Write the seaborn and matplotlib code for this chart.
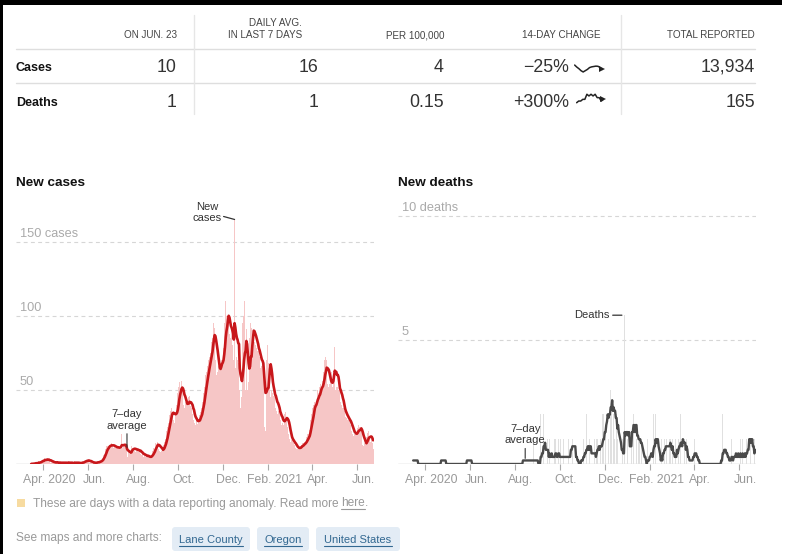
import numpy as np
import pandas as pd
import matplotlib
matplotlib.use("Agg")
import matplotlib.pyplot as plt
import matplotlib.transforms as mtransforms
import matplotlib.dates as mdates
from matplotlib.patches import Rectangle, FancyBboxPatch
from matplotlib.lines import Line2D
import seaborn as sns

# ---------------- data (daily values, Mar 16 2020 - Jun 23 2021) ----------------
cases_2020_03 = [0,1,0,0,1,0,1,1,0,1,2,1,1,2,2,3]
cases_2020_04 = [3,2,4,3,2,3,4,2,3,2,1,2,1,1,2,1,0,1,1,2,1,0,1,1,0,1,2,1,0,1]
cases_2020_05 = [1,0,1,1,2,1,0,1,0,1,1,0,1,2,1,0,1,1,0,1,1,0,1,1,2,1,2,3,2,2,3]
cases_2020_06 = [2,3,1,1,2,1,0,1,1,1,0,2,1,1,2,1,2,2,3,3,4,6,7,9,10,12,13,12,11,13]
cases_2020_07 = [13,12,14,13,12,11,12,11,10,12,11,12,10,11,13,12,20,11,12,10,13,12,11,3,5,9,7,10,9,12,11]
cases_2020_08 = [10,11,9,10,8,11,9,10,8,9,7,8,6,7,5,6,7,5,6,4,5,6,4,5,4,6,7,9,11,10,12]
cases_2020_09 = [14,13,15,16,10,9,8,10,9,11,10,13,15,17,20,22,25,28,30,33,36,38,40,35,30,28,30,34,40,46]
cases_2020_10 = [48,52,55,50,48,56,52,44,40,38,42,36,44,40,45,41,46,39,36,38,34,30,32,28,26,30,31,27,29,33,30]
cases_2020_11 = [35,38,42,44,48,52,56,60,62,66,66,70,72,75,80,82,85,95,100,92,70,60,58,62,66,68,70,65,70,72]
cases_2020_12 = [68,78,95,105,110,100,92,98,100,88,85,90,91,80,84,70,165,65,61,72,70,68,66,50,38,45,55,95,100,110,80]
cases_2021_01 = [50,91,40,50,55,85,90,95,92,88,90,90,82,80,85,78,76,76,70,72,65,68,66,70,65,20,25,22,70,75,80]
cases_2021_02 = [68,65,68,45,50,48,44,46,48,48,38,36,34,38,36,36,30,28,26,28,26,30,34,35,32,32,25,20]
cases_2021_03 = [19,17,15,16,16,16,14,13,12,11,10,10,11,11,11,12,12,13,14,13,14,15,15,16,18,20,20,21,23,30,34]
cases_2021_04 = [36,38,40,42,44,40,40,48,50,48,52,50,54,52,56,56,62,70,72,69,70,54,52,56,54,58,50,62,52,60]
cases_2021_05 = [80,79,50,52,48,52,50,55,50,42,40,38,36,38,36,32,30,31,30,29,30,31,26,24,22,20,19,21,20,22,20]
cases_2021_06 = [21,24,26,25,22,25,25,14,13,12,14,13,14,18,21,20,22,18,15,16,17,14,10]

deaths_2020_03 = [1,0,0,0,0,0,0,0,0,0,0,0,0,0,0,0]
deaths_2020_04 = [0,0,0,0,0,0,0,0,0,0, 0,0,0,0,0,0,0,0,0,0, 0,0,1,0,0,0,0,0,0,0]
deaths_2020_05 = [0,0,0,0,0,0,0,0,0,0, 0,0,0,0,0,0,0,0,0,0, 0,0,0,0,0,0,0,1,0,0,0]
deaths_2020_06 = [0,0,0,0,0,0,0,0,0,0, 0,0,0,0,0,0,0,0,0,0, 0,0,0,0,0,0,0,0,0,0]
deaths_2020_07 = [0,0,0,0,0,0,0,0,0,0, 0,0,0,0,0,0,0,0,0,0, 0,0,0,0,0,0,0,0,0,0,0]
deaths_2020_08 = [0,0,0,0,0,0,0,0,0,0, 0,1,0,0,0,0,0,0,1,0, 0,0,0,0,0,1,0,0,0,0, 0]
deaths_2020_09 = [0,0,0,0,2,0,1,0,2,0, 1,0,0,1,0,0,1,0,0,1, 0,0,0,1,1,0,0,0,1,0]
deaths_2020_10 = [0,1,0,0,0,1,0,0,1,0, 0,0,1,0,0,3,0,1,0,1, 0,0,0,0,0,0,0,0,0,1, 0]
deaths_2020_11 = [0,1,0,1,0,2,0,1,0,1, 0,1,0,0,1,0,1,0,0,1, 1,1,1,0,1,0,1,2,2,1]
deaths_2020_12 = [2,1,2,2,4,1,2,2,3,2, 4,1,2,1,2,1,2,1,2,0, 0,1,0,0,1,1,0,6,0,1, 0]
deaths_2021_01 = [1,0,1,2,0,1,4,1,2,1, 0,2,1,1,1,1,1,0,1,1, 0,0,0,0,0,0,0,1,0,0, 1]
deaths_2021_02 = [0,1,0,0,2,1,1,2,0,1, 0,0,0,0,0,1,0,2,0,1, 0,1,1,0,2,0,1,1]
deaths_2021_03 = [0,0,1,0,0,0,1,0,2,0, 1,1,0,2,0,1,2,0,1,0, 0,1,0,0,0,0,0,0,1,0, 1]
deaths_2021_04 = [0,1,0,0,0,0,0,0,0,0, 0,0,0,0,0,0,0,0,0,0, 0,0,0,0,0,0,0,0,0,0]
deaths_2021_05 = [0,0,0,0,0,0,0,1,0,2, 0,1,0,0,0,0,1,0,0,0, 0,1,0,0,1,0,0,1,0,0, 1]
deaths_2021_06 = [0,0,1,0,0,1,0,0,1,0, 1,0,2,0,3,0,1,0,1,0, 0,1,1]

table_rows = ["Cases", "Deaths"]
table_headers = ["ON JUN. 23", "DAILY AVG.\nIN LAST 7 DAYS", "PER 100,000", "14-DAY CHANGE", "TOTAL REPORTED"]
table_cases = ["10", "16", "4", "\u221225%", "13,934"]
table_deaths = ["1", "1", "0.15", "+300%", "165"]

tick_dates = ["2020-04-01", "2020-06-01", "2020-08-01", "2020-10-01", "2020-12-01",
              "2021-02-01", "2021-04-01", "2021-06-01"]
tick_labels = ["Apr. 2020", "Jun.", "Aug.", "Oct.", "Dec.", "Feb. 2021", "Apr.", "Jun."]
case_grid = [50, 100, 150]
case_grid_labels = ["50", "100", "150 cases"]
death_grid = [5, 10]
death_grid_labels = ["5", "10 deaths"]
buttons = ["Lane County", "Oregon", "United States"]

cases = np.concatenate([cases_2020_03, cases_2020_04, cases_2020_05, cases_2020_06,
                        cases_2020_07, cases_2020_08, cases_2020_09, cases_2020_10,
                        cases_2020_11, cases_2020_12, cases_2021_01, cases_2021_02,
                        cases_2021_03, cases_2021_04, cases_2021_05, cases_2021_06])
deaths = np.concatenate([deaths_2020_03, deaths_2020_04, deaths_2020_05, deaths_2020_06,
                         deaths_2020_07, deaths_2020_08, deaths_2020_09, deaths_2020_10,
                         deaths_2020_11, deaths_2020_12, deaths_2021_01, deaths_2021_02,
                         deaths_2021_03, deaths_2021_04, deaths_2021_05, deaths_2021_06])
dates = pd.date_range("2020-03-16", "2021-06-23", freq="D")
df = pd.DataFrame({"date": dates, "cases": cases, "deaths": deaths})
# 7-day average (days before the series count as zero)
df["cases_avg"] = df["cases"].rolling(7, min_periods=1).sum() / 7
df["deaths_avg"] = df["deaths"].rolling(7, min_periods=1).sum() / 7

# ---------------- figure ----------------
sns.set_theme(style="white")
plt.rcParams["font.family"] = ["Liberation Sans", "DejaVu Sans"]

W, H = 788, 554
fig = plt.figure(figsize=(W / 100, H / 100), dpi=100)
fig.patch.set_facecolor("white")


def fx(x):
    return x / W


def fy(y):
    return 1 - y / H


DARK = "#333333"
GRAY = "#999999"

# frame edges (top and left)
fig.add_artist(Rectangle((0, fy(5)), fx(782), 5 / H, transform=fig.transFigure,
                         facecolor="black", lw=0, zorder=10))
fig.add_artist(Rectangle((0, 0), fx(3), 1, transform=fig.transFigure,
                         facecolor="black", lw=0, zorder=10))

# ---------------- summary table ----------------
head_right = [177, 302, 444, 600, 755]
val_right = [177, 318, 444, 569, 755]
for i, h in enumerate(table_headers):
    fig.text(fx(head_right[i]), fy(38), h, ha="right", va="baseline", fontsize=7.1,
             color="#444444", multialignment="right", linespacing=1.3)
for y in (48.5, 82.5):
    fig.add_artist(Line2D([fx(16), fx(755)], [fy(y), fy(y)], color="#dedede", lw=1))
for x in (193.5, 620.5):
    fig.add_artist(Line2D([fx(x), fx(x)], [fy(15), fy(114)], color="#e6e6e6", lw=1))

for r, (label, vals, base) in enumerate(zip(table_rows, [table_cases, table_deaths], [72, 107])):
    fig.text(fx(16), fy(base - 1), label, ha="left", va="baseline", fontsize=9,
             fontweight="bold", color="#121212")
    for i, v in enumerate(vals):
        fig.text(fx(val_right[i]), fy(base), v, ha="right", va="baseline",
                 fontsize=12.8, color=DARK)


def sparkline(rect, series):
    sax = fig.add_axes(rect)
    xs = np.arange(len(series))
    sns.lineplot(x=xs, y=series, ax=sax, color="#222222", lw=1.1)
    sax.plot([xs[-1]], [series[-1]], marker=">", ms=4.5, color="#222222", mew=0)
    sax.set_xlim(-0.3, xs[-1] + 0.8)
    lo, hi = np.min(series), np.max(series)
    pad = (hi - lo) * 0.15 + 1e-6
    sax.set_ylim(lo - pad, hi + pad)
    sax.axis("off")


sparkline([fx(574), fy(73), 30 / W, 9 / H], df["cases_avg"].values[-14:])
sparkline([fx(576), fy(104), 29 / W, 11 / H], df["deaths_avg"].values[-14:])

# ---------------- charts ----------------
x0 = pd.Timestamp("2020-02-24 10:00")
x1 = pd.Timestamp("2021-06-24 04:00")
ax_h = 264 / H
axL = fig.add_axes([fx(16), fy(464), 358 / W, ax_h])
axR = fig.add_axes([fx(398), fy(464), 358 / W, ax_h])


def offset(ax, dx, dy):
    return ax.transData + mtransforms.ScaledTranslation(dx / 100, dy / 100, fig.dpi_scale_trans)


def style_axis(ax, ymax, grid_vals, grid_labels):
    ax.set_xlim(x0, x1)
    ax.set_ylim(0, ymax)
    for s in ax.spines.values():
        s.set_visible(False)
    ax.set_yticks([])
    ax.set_xlabel("")
    ax.set_ylabel("")
    ax.axhline(0, color="#c8c8c8", lw=1, zorder=1)
    for v, lab in zip(grid_vals, grid_labels):
        ax.axhline(v, color="#d6d6d6", lw=0.8, ls=(0, (3.5, 3)), zorder=0)
        ax.text(mdates.date2num(x0), v, lab, transform=offset(ax, 4, 5), ha="left",
                va="baseline", fontsize=9.2, color="#aaaaaa")
    ax.set_xticks(pd.to_datetime(tick_dates))
    ax.set_xticklabels(tick_labels)
    ax.tick_params(axis="x", bottom=True, length=4, width=0.8, color="#aaaaaa",
                   labelcolor=GRAY, labelsize=8.8, pad=3)
    sh = mtransforms.ScaledTranslation(6 / 100, 0, fig.dpi_scale_trans)
    for lab in ax.get_xticklabels():
        lab.set_transform(lab.get_transform() + sh)


# cases
axL.bar(df["date"], df["cases"], width=1.0, color="#f6c6c6", linewidth=0, zorder=2)
sns.lineplot(data=df, x="date", y="cases_avg", ax=axL, color="#c8171b", lw=1.9, zorder=3)
style_axis(axL, 264 / 1.482, case_grid, case_grid_labels)

# deaths
axR.bar(df["date"], df["deaths"], width=0.6, color="#e0e0e0", linewidth=0, zorder=2)
sns.lineplot(data=df, x="date", y="deaths_avg", ax=axR, color="#4a4a4a", lw=1.7, zorder=3)
style_axis(axR, 264 / 24.8, death_grid, death_grid_labels)

fig.text(fx(16), fy(186), "New cases", ha="left", va="baseline", fontsize=9.7,
         fontweight="bold", color="#121212")
fig.text(fx(398), fy(186), "New deaths", ha="left", va="baseline", fontsize=9.7,
         fontweight="bold", color="#121212")

# annotations: cases
i7 = df.index[df["date"] == pd.Timestamp("2020-07-24")][0]
d7, v7 = df.loc[i7, "date"], df.loc[i7, "cases_avg"]
axL.annotate("", xy=(d7, v7), xytext=(0, 15), textcoords="offset pixels",
             arrowprops=dict(arrowstyle="-", color=DARK, lw=0.8, shrinkA=0, shrinkB=1))
axL.annotate("7\u2013day\naverage", xy=(d7, v7), xytext=(0, 18), textcoords="offset pixels",
             ha="center", va="bottom", fontsize=8, color=DARK, multialignment="center")

ic = int(df["cases"].idxmax())
dc, vc = df.loc[ic, "date"], df.loc[ic, "cases"]
axL.annotate("New\ncases", xy=(dc, vc), xytext=(-13, -4), textcoords="offset pixels",
             ha="right", va="bottom", fontsize=8, color=DARK, multialignment="center")
axL.annotate("", xy=(dc, vc), xytext=(-11, 3), textcoords="offset pixels",
             arrowprops=dict(arrowstyle="-", color=DARK, lw=0.9, shrinkA=0, shrinkB=0),
             annotation_clip=False)

# annotations: deaths
i7d = df.index[df["date"] == pd.Timestamp("2020-08-15")][0]
d7d, v7d = df.loc[i7d, "date"], df.loc[i7d, "deaths_avg"]
axR.annotate("", xy=(d7d, v7d), xytext=(0, 12), textcoords="offset pixels",
             arrowprops=dict(arrowstyle="-", color=DARK, lw=0.8, shrinkA=0, shrinkB=1.5))
axR.annotate("7\u2013day\naverage", xy=(d7d, v7d), xytext=(0, 15), textcoords="offset pixels",
             ha="center", va="bottom", fontsize=8, color=DARK, multialignment="center")

idd = int(df["deaths"].idxmax())
ddd, vdd = df.loc[idd, "date"], df.loc[idd, "deaths"]
axR.annotate("Deaths", xy=(ddd, vdd), xytext=(-15, 0), textcoords="offset pixels",
             ha="right", va="center", fontsize=8, color=DARK)
axR.annotate("", xy=(ddd, vdd), xytext=(-12, 0), textcoords="offset pixels",
             arrowprops=dict(arrowstyle="-", color=DARK, lw=0.9, shrinkA=0, shrinkB=2))

# ---------------- footer ----------------
fig.add_artist(Rectangle((fx(17), fy(507)), 8 / W, 8 / H, transform=fig.transFigure,
                         facecolor="#f7dba0", lw=0))
renderer = fig.canvas.get_renderer()
t_leg = fig.text(fx(33), fy(506.5), "These are days with a data reporting anomaly. Read more",
                 ha="left", va="baseline", fontsize=8.6, color=GRAY)
bb = t_leg.get_window_extent(renderer)
t_here = fig.text((bb.x1 + 2.5) / W, fy(506.5), "here", ha="left", va="baseline",
                  fontsize=8.6, color=GRAY)
bb2 = t_here.get_window_extent(renderer)
fig.add_artist(Line2D([bb2.x0 / W, bb2.x1 / W], [fy(509), fy(509)], color=GRAY, lw=0.8))
fig.text(bb2.x1 / W, fy(506.5), ".", ha="left", va="baseline", fontsize=8.6, color=GRAY)

fig.text(fx(16), fy(541), "See maps and more charts:", ha="left", va="baseline",
         fontsize=8.6, color=GRAY)
btn_x = [(172, 250), (257, 309), (316, 400)]
for lab, (bx0, bx1) in zip(buttons, btn_x):
    fig.add_artist(FancyBboxPatch((fx(bx0), fy(551)), (bx1 - bx0) / W, 24 / H,
                                  boxstyle="round,pad=0,rounding_size=0.004",
                                  transform=fig.transFigure, facecolor="#e3ecf5",
                                  edgecolor="none", mutation_aspect=W / H))
    t = fig.text(fx((bx0 + bx1) / 2), fy(543), lab, ha="center", va="baseline",
                 fontsize=8, color="#326891")
    tb = t.get_window_extent(renderer)
    fig.add_artist(Line2D([tb.x0 / W, tb.x1 / W], [fy(545.5), fy(545.5)],
                          color="#326891", lw=0.8))

fig.savefig("out.png", dpi=100, facecolor="white")
